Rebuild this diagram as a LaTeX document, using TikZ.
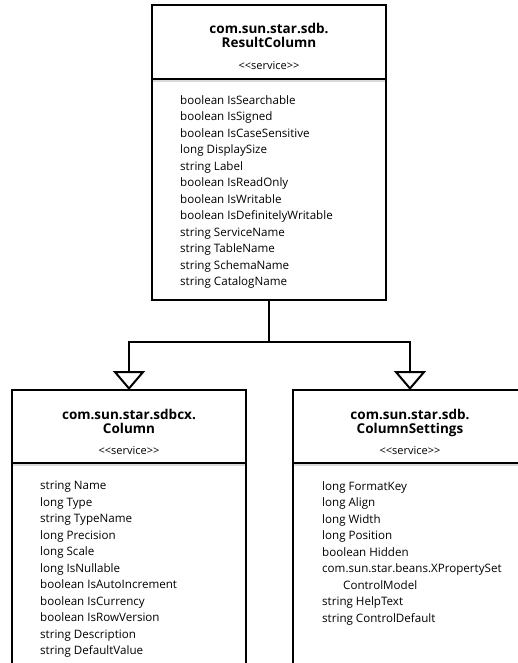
\documentclass[tikz,border=0pt]{standalone}
\usepackage{fontspec}
\setmainfont{Open Sans}
\usetikzlibrary{positioning, arrows.meta}

\begin{document}
\begin{tikzpicture}[
        x=1pt, y=-1pt,
        classhead/.style={rectangle, draw, line width=1.8pt, fill=white, minimum width=234pt, minimum height=74pt, inner sep=0pt, outer sep=0pt},
        classbody/.style={rectangle, draw, line width=1.8pt, fill=white, minimum width=234pt, inner sep=0pt, outer sep=0pt},
        titletext/.style={anchor=north, inner sep=0pt, align=center, font=\fontsize{13.5}{16}\selectfont\bfseries},
        stereo/.style={anchor=base, inner sep=0pt, font=\fontsize{11}{12}\selectfont},
        attrlist/.style={anchor=north west, inner sep=0pt, align=left, font=\fontsize{11.6}{16.5}\selectfont},
        shade/.style={gray!30, line width=2pt},
        generalize/.style={-{Triangle[open, length=19pt, width=32pt]}, line width=2pt},
    ]
    \useasboundingbox (0,0) rectangle (517,663);

    % ===== ResultColumn =====
    \node[classhead] (RC_HEAD) at (269,42) {};
    \node[titletext] (RC_TITLE) at ([yshift=-18pt]RC_HEAD.north) {com.sun.star.sdb.\\[-1.5pt]ResultColumn};
    \node[stereo] (RC_STEREO) at ([yshift=-64.5pt]RC_HEAD.north) {<{}<service>{}>};
    \node[classbody, minimum height=221pt, below=0pt of RC_HEAD] (RC_BODY) {};
    \node[attrlist] (RC_ATTR) at ([xshift=28pt, yshift=-16pt]RC_BODY.north west)
        {boolean IsSearchable\\boolean IsSigned\\boolean IsCaseSensitive\\long DisplaySize\\string Label\\boolean IsReadOnly\\boolean IsWritable\\boolean IsDefinitelyWritable\\string ServiceName\\string TableName\\string SchemaName\\string CatalogName};

    % ===== Column =====
    \node[classhead, minimum height=73pt] (CO_HEAD) at (129,426.5) {};
    \node[titletext] (CO_TITLE) at ([yshift=-19pt]CO_HEAD.north) {com.sun.star.sdbcx.\\[-1.5pt]Column};
    \node[stereo] (CO_STEREO) at ([yshift=-64.5pt]CO_HEAD.north) {<{}<service>{}>};
    \node[classbody, minimum height=220pt, below=0pt of CO_HEAD] (CO_BODY) {};
    \node[attrlist] (CO_ATTR) at ([xshift=28pt, yshift=-18pt]CO_BODY.north west)
        {string Name\\long Type\\string TypeName\\long Precision\\long Scale\\long IsNullable\\boolean IsAutoIncrement\\boolean IsCurrency\\boolean IsRowVersion\\string Description\\string DefaultValue};

    % ===== ColumnSettings =====
    \node[classhead, minimum height=73pt] (CS_HEAD) at (410,426.5) {};
    \node[titletext] (CS_TITLE) at ([yshift=-19pt]CS_HEAD.north) {com.sun.star.sdb.\\[-1.5pt]ColumnSettings};
    \node[stereo] (CS_STEREO) at ([yshift=-64.5pt]CS_HEAD.north) {<{}<service>{}>};
    \node[classbody, minimum height=220pt, below=0pt of CS_HEAD] (CS_BODY) {};
    \node[attrlist] (CS_ATTR) at ([xshift=29pt, yshift=-18pt]CS_BODY.north west)
        {long FormatKey\\long Align\\long Width\\long Position\\boolean Hidden\\com.sun.star.beans.XPropertySet\\\hspace*{21pt}ControlModel\\string HelpText\\string ControlDefault};

    % shading under the title bars
    \draw[shade] ([xshift=1pt, yshift=-2pt]RC_BODY.north west) -- ([xshift=-1pt, yshift=-2pt]RC_BODY.north east);
    \draw[shade] ([xshift=1pt, yshift=-2pt]CO_BODY.north west) -- ([xshift=-1pt, yshift=-2pt]CO_BODY.north east);
    \draw[shade] ([xshift=1pt, yshift=-2pt]CS_BODY.north west) -- ([xshift=-1pt, yshift=-2pt]CS_BODY.north east);

    % ===== Inheritance =====
    \coordinate (JOIN) at (269,342);
    \draw[line width=2pt] (RC_BODY.south) -- (JOIN);
    \draw[generalize] (JOIN) -| (CO_HEAD.north);
    \draw[generalize] (JOIN) -| (CS_HEAD.north);

\end{tikzpicture}
\end{document}
